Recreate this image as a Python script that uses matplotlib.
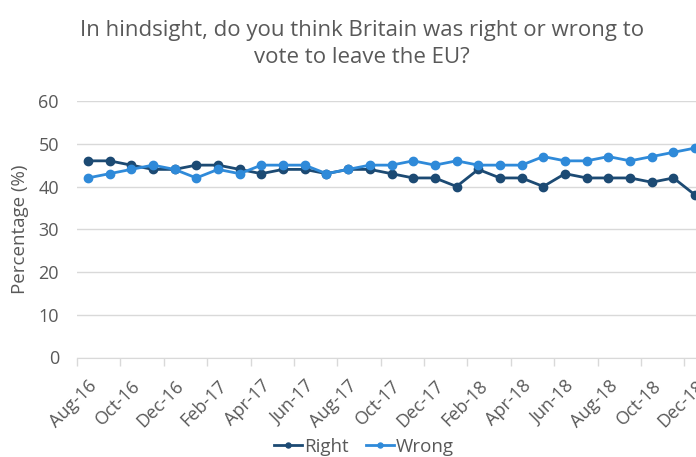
import matplotlib
matplotlib.use("Agg")
import matplotlib.pyplot as plt
import numpy as np

months = ["Aug-16","Sep-16","Oct-16","Nov-16","Dec-16","Jan-17","Feb-17","Mar-17","Apr-17",
          "May-17","Jun-17","Jul-17","Aug-17","Sep-17","Oct-17","Nov-17","Dec-17","Jan-18",
          "Feb-18","Mar-18","Apr-18","May-18","Jun-18","Jul-18","Aug-18","Sep-18","Oct-18",
          "Nov-18","Dec-18"]
right = [46,46,45,44,44,45,45,44,43,44,44,43,44,44,43,42,42,40,44,42,42,40,43,42,42,42,41,42,38]
wrong = [42,43,44,45,44,42,44,43,45,45,45,43,44,45,45,46,45,46,45,45,45,47,46,46,47,46,47,48,49]
yticks = [0,10,20,30,40,50,60]

plt.rcParams['font.family'] = ['Open Sans', 'DejaVu Sans']
gray = '#595959'

fig = plt.figure(figsize=(6.96, 4.57), dpi=100)
left = 77/696
right_edge = 706/696
bottom = 1 - 357.5/457
top = 1 - 101/457
ax = fig.add_axes([left, bottom, right_edge-left, top-bottom])

x = np.arange(len(months))
c_right = '#1c4a73'
c_wrong = '#2f8ad9'
l1, = ax.plot(x, right, color=c_right, lw=2.0, marker='o', ms=6, label='Right', zorder=3)
l2, = ax.plot(x, wrong, color=c_wrong, lw=2.0, marker='o', ms=6, label='Wrong', zorder=3)

ax.set_xlim(-0.5, len(months)-0.5)
ax.set_ylim(0, 60)
ax.set_yticks(yticks)
ax.set_yticklabels([str(v) for v in yticks], fontsize=13, color=gray)
ax.yaxis.grid(True, color='#d9d9d9', lw=1)
ax.set_axisbelow(True)
ax.tick_params(axis='y', length=0, pad=13)

ax.set_xticks(x[::2])
ax.set_xticklabels(months[::2], rotation=45, ha='right', va='top', rotation_mode='anchor',
                   fontsize=13, color=gray)
ax.set_xticks(np.arange(-0.5, len(months), 2), minor=True)
ax.tick_params(axis='x', which='major', length=0, pad=14)
ax.tick_params(axis='x', which='minor', length=6, color='#d9d9d9', width=1)

for s in ['top', 'right', 'left']:
    ax.spines[s].set_visible(False)
ax.spines['bottom'].set_color('#d9d9d9')

ax.set_ylabel('Percentage (%)', fontsize=13.5, color=gray)
ax.yaxis.set_label_coords(-(77-29)/629, 0.5)

fig.text(362/696, 1-44/457, 'In hindsight, do you think Britain was right or wrong to\nvote to leave the EU?',
         ha='center', va='center', fontsize=16, color=gray, linespacing=1.4)

fig.legend(handles=[l1, l2], loc='center', bbox_to_anchor=(364/696, 1-447/457), ncol=2,
           frameon=False, fontsize=13.5, labelcolor=gray, handlelength=1.5, handletextpad=0.1,
           columnspacing=0.9, markerscale=0.6)

fig.savefig('out.png', dpi=100)
